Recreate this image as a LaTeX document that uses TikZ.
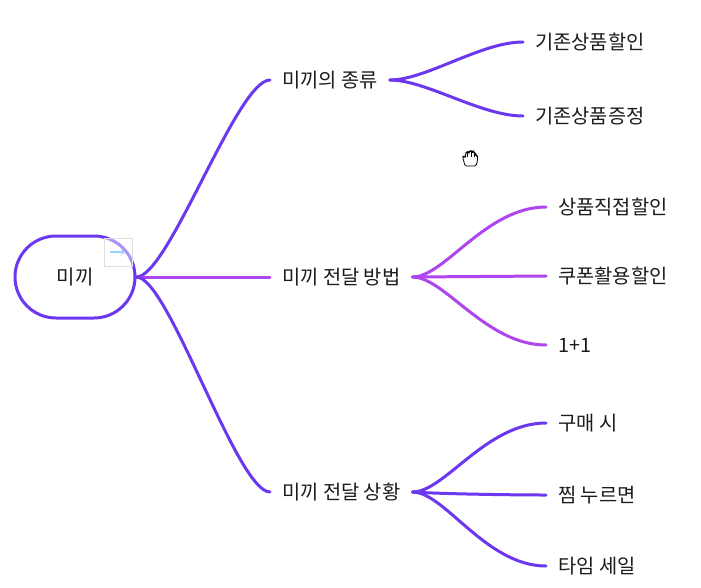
\documentclass[tikz,border=0pt]{standalone}
\usepackage{fontspec}
\setmainfont{Noto Sans CJK KR}
\usetikzlibrary{arrows.meta}
\definecolor{bblue}{HTML}{6B38F0}
\definecolor{bpurple}{HTML}{AE45EE}
\definecolor{txt}{HTML}{1C1C1C}
\tikzset{
  x=1pt,y=-1pt,
  rootbox/.style={draw=bblue,line width=3pt,rounded corners=41pt,minimum width=120pt,minimum height=82pt,inner sep=0pt,font=\fontsize{20}{24}\selectfont,text=txt},
  lab/.style={anchor=west,inner xsep=12pt,inner ysep=2pt,font=\fontsize{19.8}{24}\selectfont,text=txt},
  brA/.style={draw=bblue,line width=3pt,line cap=round},
  brB/.style={draw=bpurple,line width=3pt,line cap=round},
}
\begin{document}
\begin{tikzpicture}
\useasboundingbox (0,0) rectangle (701,587);
\fill[white] (0,0) rectangle (701,587);
% root
\node[rootbox] (root) at (75,277) {미끼};
% children
\node[lab] (c1) at (270,80) {미끼의 종류};
\node[lab] (c2) at (270,277) {미끼 전달 방법};
\node[lab] (c3) at (270,492) {미끼 전달 상황};
% grandchildren
\node[lab] (g11) at (523,42) {기존상품할인};
\node[lab] (g12) at (523,116) {기존상품증정};
\node[lab] (g21) at (546,207) {상품직접할인};
\node[lab] (g22) at (546,276) {쿠폰활용할인};
\node[lab] (g23) at (546,345) {1+1};
\node[lab] (g31) at (546,423) {구매 시};
\node[lab] (g32) at (546,495) {찜 누르면};
\node[lab] (g33) at (546,566) {타임 세일};
% main branches
\draw[brA] (root.east) .. controls +(32,0) and +(-33,0) .. (c1.west);
\draw[brB] (root.east) -- (c2.west);
\draw[brA] (root.east) .. controls +(32,0) and +(-33,0) .. (c3.west);
% sub branches
\draw[brA] (c1.east) .. controls +(36,0) and +(-42,0) .. (g11.west);
\draw[brA] (c1.east) .. controls +(36,0) and +(-42,0) .. (g12.west);
\draw[brB] (c2.east) .. controls +(32,0) and +(-60,0) .. (g21.west);
\draw[brB] (c2.east) -- (g22.west);
\draw[brB] (c2.east) .. controls +(32,0) and +(-60,0) .. (g23.west);
\draw[brA] (c3.east) .. controls +(32,0) and +(-60,0) .. (g31.west);
\draw[brA] (c3.east) .. controls +(30,2) and +(-30,0) .. (g32.west);
\draw[brA] (c3.east) .. controls +(32,0) and +(-60,0) .. (g33.west);
% expand icon
\node[draw=black!12,fill=white,fill opacity=0.45,minimum size=28pt,inner sep=0pt] (ico) at (118,252) {};
\draw[-{Stealth[length=4pt,width=7pt]},draw=blue!45!cyan!40!white,line width=1.4pt] ([xshift=-8pt]ico.center) -- ([xshift=7pt]ico.center);
% hand cursor
\begin{scope}[shift={(470,158)},line width=0.8pt,black]
\draw[fill=white,rounded corners=1.5pt] (-5,8) -- (-6.5,2) -- (-7.5,-1) -- (-6,-2) -- (-4.5,0) -- (-4.5,-5) -- (-2.5,-6.5) -- (-1,-5) -- (-1,-6.5) -- (1,-7.5) -- (2.5,-6) -- (3,-6.5) -- (5,-5.5) -- (5,-3) -- (6.5,-3) -- (7.5,-1.5) -- (7.5,3) -- (6,8) -- cycle;
\draw (-2.5,-6) -- (-2.5,-1) (1,-7) -- (1,-1.5) (4.5,-4.5) -- (4.5,-1);
\end{scope}
\end{tikzpicture}
\end{document}
